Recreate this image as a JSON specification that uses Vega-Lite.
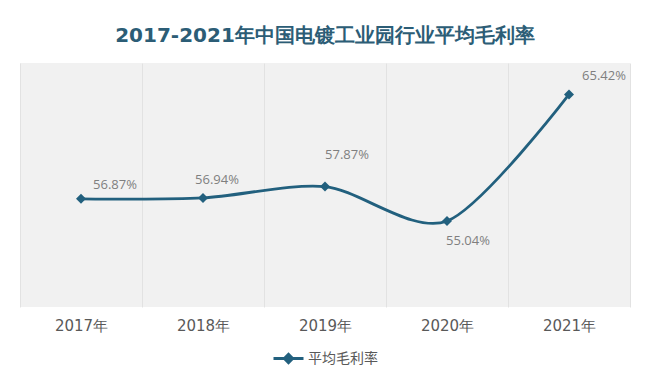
{
  "$schema": "https://vega.github.io/schema/vega-lite/v6.json",
  "width": 610,
  "height": 244,
  "autosize": {"type": "none"},
  "padding": {"left": 20, "top": 63, "right": 26, "bottom": 84},
  "background": "#ffffff",
  "title": {
    "text": "2017-2021年中国电镀工业园行业平均毛利率",
    "font": "DejaVu Sans",
    "fontSize": 20,
    "fontWeight": "bold",
    "color": "#2c5d76",
    "anchor": "middle",
    "offset": 17
  },
  "config": {
    "view": {"fill": "#f1f1f1", "stroke": null}
  },
  "data": {
    "values": [
      {"year": "2017年", "value": 56.87, "label": "56.87%", "series": "平均毛利率"},
      {"year": "2018年", "value": 56.94, "label": "56.94%", "series": "平均毛利率"},
      {"year": "2019年", "value": 57.87, "label": "57.87%", "series": "平均毛利率"},
      {"year": "2020年", "value": 55.04, "label": "55.04%", "series": "平均毛利率"},
      {"year": "2021年", "value": 65.42, "label": "65.42%", "series": "平均毛利率"}
    ]
  },
  "encoding": {
    "x": {
      "field": "year",
      "type": "ordinal",
      "sort": null,
      "scale": {"type": "band", "paddingInner": 0, "paddingOuter": 0},
      "axis": {
        "title": null,
        "labelAngle": 0,
        "labelFont": "DejaVu Sans",
        "labelFontSize": 15,
        "labelColor": "#595959",
        "labelPadding": 11,
        "domain": false,
        "ticks": false,
        "grid": true,
        "gridColor": "#e2e2e2",
        "gridWidth": 1,
        "tickBand": "extent"
      }
    },
    "y": {
      "field": "value",
      "type": "quantitative",
      "scale": {"domain": [48, 68], "zero": false, "nice": false},
      "axis": null
    }
  },
  "layer": [
    {
      "mark": {"type": "line", "interpolate": "cardinal", "tension": 0.15, "strokeWidth": 2.8},
      "encoding": {
        "color": {
          "field": "series",
          "type": "nominal",
          "scale": {"range": ["#22607e"]},
          "legend": {
            "title": null,
            "orient": "none",
            "legendX": 252,
            "legendY": 279,
            "symbolType": "M-1,0L1,0M-0.28,0L0,-0.28L0.28,0L0,0.28Z",
            "symbolSize": 900,
            "symbolStrokeWidth": 2.8,
            "symbolFillColor": "#22607e",
            "symbolStrokeColor": "#22607e",
            "labelFont": "Noto Sans CJK SC",
            "labelFontSize": 14,
            "labelColor": "#595959",
            "labelOffset": 3
          }
        }
      }
    },
    {
      "mark": {"type": "point", "shape": "diamond", "filled": true, "size": 100, "color": "#22607e", "opacity": 1}
    },
    {
      "transform": [{"filter": "datum.year == '2017年'"}],
      "mark": {"type": "text", "dx": 34, "dy": -14, "font": "Open Sans", "fontSize": 13, "color": "#7f7f7f"},
      "encoding": {"text": {"field": "label"}}
    },
    {
      "transform": [{"filter": "datum.year == '2018年'"}],
      "mark": {"type": "text", "dx": 14, "dy": -18, "font": "Open Sans", "fontSize": 13, "color": "#7f7f7f"},
      "encoding": {"text": {"field": "label"}}
    },
    {
      "transform": [{"filter": "datum.year == '2019年'"}],
      "mark": {"type": "text", "dx": 22, "dy": -32, "font": "Open Sans", "fontSize": 13, "color": "#7f7f7f"},
      "encoding": {"text": {"field": "label"}}
    },
    {
      "transform": [{"filter": "datum.year == '2020年'"}],
      "mark": {"type": "text", "dx": 21, "dy": 20, "font": "Open Sans", "fontSize": 13, "color": "#7f7f7f"},
      "encoding": {"text": {"field": "label"}}
    },
    {
      "transform": [{"filter": "datum.year == '2021年'"}],
      "mark": {"type": "text", "dx": 35, "dy": -18, "font": "Open Sans", "fontSize": 13, "color": "#7f7f7f"},
      "encoding": {"text": {"field": "label"}}
    }
  ]
}
